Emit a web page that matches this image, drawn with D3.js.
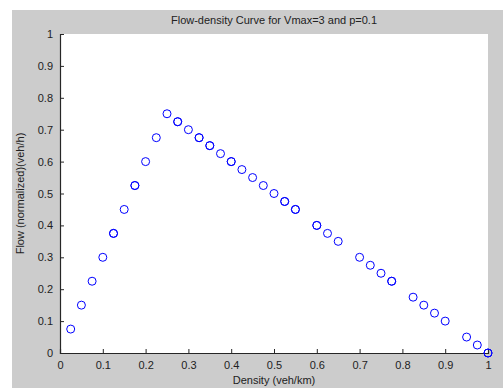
<!DOCTYPE html>
<html>
<head>
<meta charset="utf-8">
<script src="https://cdn.jsdelivr.net/npm/d3@7"></script>
<style>
  body { margin: 0; background: #fff; }
  text { font-family: "Liberation Sans", Arial, sans-serif; fill: #222; }
</style>
</head>
<body>
<svg id="viz"></svg>
<script>
var width = 503,
    height = 388,
    margin = {top: 34, right: 15, bottom: 35, left: 60};

// density values (veh/km, normalized), repeats = points drawn twice
var density = [0.025, 0.05, 0.075, 0.1, 0.125, 0.125, 0.15, 0.175, 0.175, 0.2, 0.225, 0.25,
               0.275, 0.275, 0.3, 0.325, 0.325, 0.35, 0.35, 0.375, 0.4, 0.4, 0.425, 0.45, 0.475, 0.5,
               0.525, 0.525, 0.55, 0.55, 0.6, 0.6, 0.625, 0.65, 0.7, 0.725, 0.75, 0.775, 0.775,
               0.825, 0.85, 0.875, 0.9, 0.95, 0.975, 1, 1];
var flow = [0.075, 0.15, 0.225, 0.3, 0.375, 0.375, 0.45, 0.525, 0.525, 0.6, 0.675, 0.75,
            0.725, 0.725, 0.7, 0.675, 0.675, 0.65, 0.65, 0.625, 0.6, 0.6, 0.575, 0.55, 0.525, 0.5,
            0.475, 0.475, 0.45, 0.45, 0.4, 0.4, 0.375, 0.35, 0.3, 0.275, 0.25, 0.225, 0.225,
            0.175, 0.15, 0.125, 0.1, 0.05, 0.025, 0, 0];
var xTicks = [0, 0.1, 0.2, 0.3, 0.4, 0.5, 0.6, 0.7, 0.8, 0.9, 1];
var yTicks = [0, 0.1, 0.2, 0.3, 0.4, 0.5, 0.6, 0.7, 0.8, 0.9, 1];

var svg = d3.select("#viz").attr("width", width).attr("height", height);

// grey figure background
svg.append("rect").attr("x", 12).attr("y", 10)
    .attr("width", width - 12).attr("height", height - 10)
    .attr("fill", "#cccccc");

var x = d3.scaleLinear().domain([0, 1]).range([margin.left, width - margin.right]);
var y = d3.scaleLinear().domain([0, 1]).range([height - margin.bottom, margin.top]);

// white axes area
svg.append("rect")
    .attr("x", x(0)).attr("y", y(1))
    .attr("width", x(1) - x(0)).attr("height", y(0) - y(1))
    .attr("fill", "#fff");

var xAxis = svg.append("g")
    .attr("transform", "translate(0," + y(0) + ")")
    .call(d3.axisBottom(x).tickValues(xTicks).tickSize(-4).tickPadding(8)
      .tickFormat(function(d) { return d === 0 || d === 1 ? d : d3.format(".1f")(d); }));

var yAxis = svg.append("g")
    .attr("transform", "translate(" + x(0) + ",0)")
    .call(d3.axisLeft(y).tickValues(yTicks).tickSize(-4).tickPadding(7)
      .tickFormat(function(d) { return d === 0 || d === 1 ? d : d3.format(".1f")(d); }));

[xAxis, yAxis].forEach(function(a) {
  a.select(".domain").attr("stroke", "#262626").attr("stroke-width", 1.2);
  a.selectAll(".tick line").attr("stroke", "#262626");
  a.selectAll(".tick text").style("font-size", "11px").attr("fill", "#222")
    .style("font-family", "'Liberation Sans', Arial, sans-serif");
});

// markers
svg.append("g").selectAll("circle")
    .data(density.map(function(d, i) { return {x: d, y: flow[i]}; }))
    .enter()
    .append("circle")
    .attr("cx", function(d) { return x(d.x); })
    .attr("cy", function(d) { return y(d.y); })
    .attr("r", 4)
    .attr("fill", "none")
    .attr("stroke", "#0000ff")
    .attr("stroke-width", 1);

// titles
svg.append("text")
    .attr("x", (x(0) + x(1)) / 2).attr("y", 24)
    .attr("text-anchor", "middle")
    .style("font-size", "11px")
    .text("Flow-density Curve for Vmax=3 and p=0.1");

svg.append("text")
    .attr("x", (x(0) + x(1)) / 2).attr("y", 384)
    .attr("text-anchor", "middle")
    .style("font-size", "11px")
    .text("Density (veh/km)");

svg.append("text")
    .attr("transform", "translate(24," + (y(0) + y(1)) / 2 + ") rotate(-90)")
    .attr("text-anchor", "middle")
    .style("font-size", "11px")
    .text("Flow (normalized)(veh/h)");
</script>
</body>
</html>
